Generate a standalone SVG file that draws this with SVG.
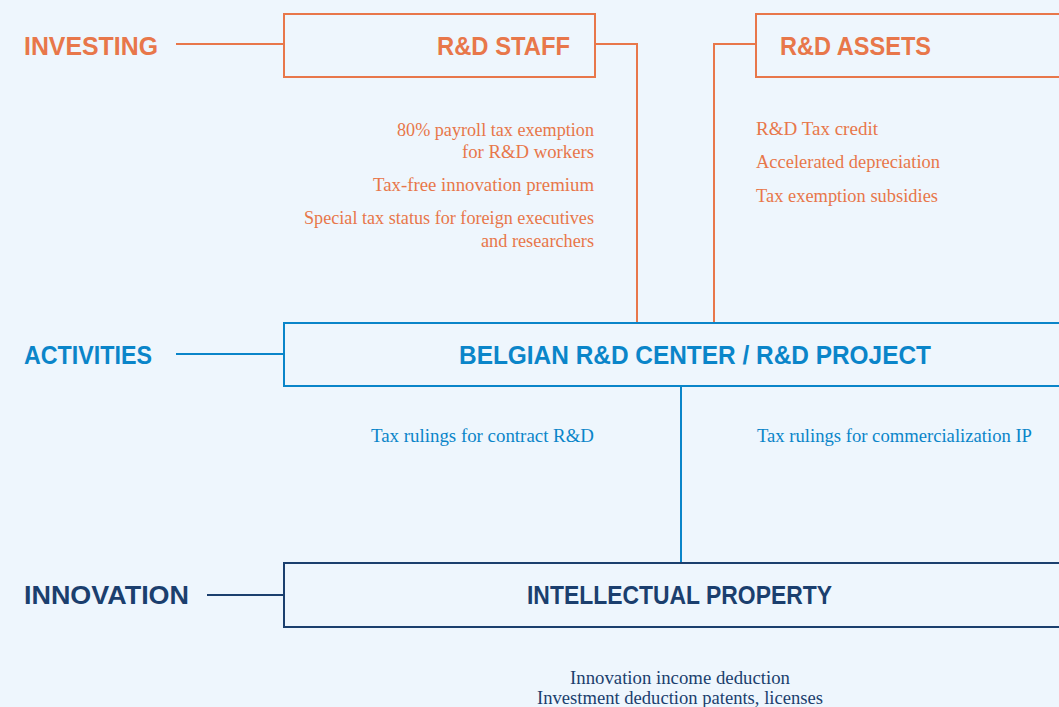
<svg xmlns="http://www.w3.org/2000/svg" width="1059" height="707" viewBox="0 0 1059 707">
<style>
.bg{fill:#EEF6FD}
.box{fill:none;stroke-width:2}
.o{stroke:#E8774A}
.b{stroke:#0A85C9}
.n{stroke:#1B3F6E}
.h{font-family:"Liberation Sans",Arial,sans-serif;font-weight:bold;font-size:25px}
.s{font-family:"Liberation Serif","Times New Roman",serif;font-size:18px}
.to{fill:#E8774A}
.tb{fill:#0A85C9}
.tn{fill:#1B3F6E}
.ln{fill:none;stroke-width:2}
</style>
<rect class="bg" x="0" y="0" width="1059" height="707"/>
<g id="connectors">
<path class="ln o" d="M176,44 H284"/>
<path class="ln o" d="M595,44 H637 V323"/>
<path class="ln o" d="M756,44 H714 V323"/>
<path class="ln b" d="M176,354 H284"/>
<path class="ln b" d="M681,386 V563"/>
<path class="ln n" d="M207,595 H284"/>
</g>
<g id="label-investing"><text class="h to" x="24" y="55" textLength="134" lengthAdjust="spacingAndGlyphs">INVESTING</text></g>
<g id="label-activities"><text class="h tb" x="24" y="364" textLength="128" lengthAdjust="spacingAndGlyphs">ACTIVITIES</text></g>
<g id="label-innovation"><text class="h tn" x="24" y="604" textLength="165" lengthAdjust="spacingAndGlyphs">INNOVATION</text></g>
<g id="node-staff">
<rect class="box o" x="284" y="14" width="311" height="63"/>
<text class="h to" x="570" y="55" text-anchor="end" textLength="133" lengthAdjust="spacingAndGlyphs">R&amp;D STAFF</text>
</g>
<g id="node-assets">
<rect class="box o" x="756" y="14" width="320" height="63"/>
<text class="h to" x="780" y="55" textLength="151" lengthAdjust="spacingAndGlyphs">R&amp;D ASSETS</text>
</g>
<g id="staff-notes" class="s to">
<text x="397" y="136" textLength="197" lengthAdjust="spacingAndGlyphs">80% payroll tax exemption</text>
<text x="462" y="158" textLength="132" lengthAdjust="spacingAndGlyphs">for R&amp;D workers</text>
<text x="373" y="191" textLength="221" lengthAdjust="spacingAndGlyphs">Tax-free innovation premium</text>
<text x="304" y="224" textLength="290" lengthAdjust="spacingAndGlyphs">Special tax status for foreign executives</text>
<text x="481" y="247" textLength="113" lengthAdjust="spacingAndGlyphs">and researchers</text>
</g>
<g id="assets-notes" class="s to">
<text x="756" y="135" textLength="122" lengthAdjust="spacingAndGlyphs">R&amp;D Tax credit</text>
<text x="756" y="168" textLength="184" lengthAdjust="spacingAndGlyphs">Accelerated depreciation</text>
<text x="756" y="202" textLength="182" lengthAdjust="spacingAndGlyphs">Tax exemption subsidies</text>
</g>
<g id="node-center">
<rect class="box b" x="284" y="323" width="790" height="63"/>
<text class="h tb" x="459" y="364" textLength="472" lengthAdjust="spacingAndGlyphs">BELGIAN R&amp;D CENTER / R&amp;D PROJECT</text>
</g>
<g id="center-notes" class="s tb">
<text x="371" y="442" textLength="223" lengthAdjust="spacingAndGlyphs">Tax rulings for contract R&amp;D</text>
<text x="757" y="442" textLength="275" lengthAdjust="spacingAndGlyphs">Tax rulings for commercialization IP</text>
</g>
<g id="node-ip">
<rect class="box n" x="284" y="563" width="790" height="64"/>
<text class="h tn" x="527" y="604" textLength="305" lengthAdjust="spacingAndGlyphs">INTELLECTUAL PROPERTY</text>
</g>
<g id="ip-notes" class="s tn">
<text x="570" y="684" textLength="220" lengthAdjust="spacingAndGlyphs">Innovation income deduction</text>
<text x="537" y="704" textLength="286" lengthAdjust="spacingAndGlyphs">Investment deduction patents, licenses</text>
</g>
</svg>
